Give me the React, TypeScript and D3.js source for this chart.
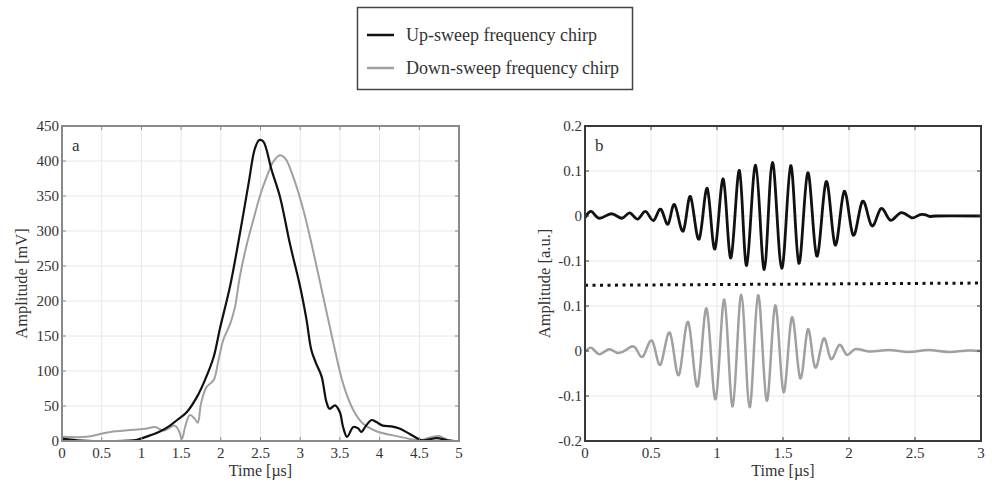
import React from "react";
import * as d3 from "d3";

// ---------- Panel a: envelope (time µs, amplitude mV) ----------
const upTimeA = [0, 0.19, 0.48, 0.9, 0.98, 1.11, 1.24, 1.36, 1.45, 1.57, 1.7, 1.8, 1.91, 1.99, 2.12, 2.24, 2.35, 2.43, 2.485, 2.535, 2.64, 2.745, 2.87, 3.0, 3.08, 3.14, 3.2, 3.27, 3.33, 3.37, 3.44, 3.5, 3.54, 3.59, 3.67, 3.73, 3.77, 3.83, 3.9, 3.96, 4.04, 4.15, 4.25, 4.38, 4.53, 4.61, 4.72, 4.85, 4.93];
const upAmpA = [3.3, 1, 0, 1, 3, 8, 14, 22, 30, 41, 63, 87, 120, 161, 223, 296, 368, 418, 430, 428, 387, 349, 282, 220, 173, 130, 111, 92, 56, 46, 51, 41, 20, 6, 20, 18, 13, 22, 30, 27, 22, 21, 18, 10, 1, 2, 4, 1, 0];
const downTimeA = [0, 0.31, 0.48, 0.61, 0.9, 1.07, 1.17, 1.28, 1.42, 1.47, 1.51, 1.55, 1.61, 1.67, 1.71, 1.75, 1.82, 1.91, 1.97, 2.03, 2.12, 2.18, 2.24, 2.33, 2.41, 2.49, 2.58, 2.66, 2.74, 2.81, 2.91, 3.04, 3.16, 3.29, 3.42, 3.54, 3.67, 3.79, 3.96, 4.17, 4.38, 4.5, 4.67, 4.75, 4.87, 5];
const downAmpA = [6, 6, 10, 13, 16, 18, 20, 15, 22, 15, 3, 20, 37, 32, 26, 53, 77, 87, 115, 144, 168, 192, 235, 282, 316, 349, 378, 399, 408, 404, 378, 330, 273, 206, 139, 82, 44, 25, 14, 8, 3, 1, 6, 7, 1, 0];
const xTicksA = [0, 0.5, 1, 1.5, 2, 2.5, 3, 3.5, 4, 4.5, 5];
const yTicksA = [0, 50, 100, 150, 200, 250, 300, 350, 400, 450];

// ---------- Panel b: waveforms (time µs, amplitude a.u.) ----------
const upTimeB = [0, 0.05, 0.11, 0.2, 0.28, 0.34, 0.4, 0.46, 0.52, 0.575, 0.63, 0.68, 0.745, 0.8, 0.865, 0.927, 0.985, 1.048, 1.106, 1.17, 1.225, 1.293, 1.358, 1.42, 1.49, 1.558, 1.62, 1.687, 1.755, 1.826, 1.894, 1.962, 2.03, 2.1, 2.17, 2.24, 2.31, 2.39, 2.475, 2.54, 2.61, 2.66, 3.0];
const upAmpB = [-0.004, 0.01, -0.005, 0.005, -0.005, 0.007, -0.007, 0.01, -0.01, 0.015, -0.018, 0.025, -0.033, 0.043, -0.051, 0.061, -0.073, 0.082, -0.093, 0.101, -0.11, 0.113, -0.119, 0.119, -0.116, 0.112, -0.105, 0.096, -0.089, 0.076, -0.064, 0.054, -0.042, 0.032, -0.021, 0.016, -0.009, 0.007, -0.004, 0.003, -0.001, 0, 0];
const downTimeB = [0, 0.05, 0.11, 0.18, 0.24, 0.31, 0.38, 0.44, 0.51, 0.573, 0.644, 0.712, 0.783, 0.854, 0.922, 0.99, 1.056, 1.119, 1.184, 1.247, 1.311, 1.376, 1.44, 1.503, 1.566, 1.629, 1.687, 1.742, 1.806, 1.861, 1.924, 1.98, 2.045, 2.15, 2.3, 2.45, 2.6, 2.75, 2.9, 3.0];
const downAmpB = [-0.002, 0.007, -0.007, 0.004, -0.004, 0.002, 0.008, -0.012, 0.022, -0.03, 0.04, -0.053, 0.064, -0.078, 0.094, -0.107, 0.114, -0.123, 0.125, -0.125, 0.124, -0.11, 0.101, -0.091, 0.074, -0.06, 0.048, -0.036, 0.027, -0.017, 0.013, -0.008, 0.004, -0.001, 0.002, -0.002, 0.002, -0.002, 0.001, 0];
const upOffsetB = 0.15;
const downOffsetB = -0.15;
const separatorTime = [0, 3];
const separatorAmp = [-0.004, 0.001];
const xTicksB = [0, 0.5, 1, 1.5, 2, 2.5, 3];
const yTickPosB = [-0.35, -0.25, -0.15, -0.05, 0.05, 0.15, 0.25, 0.35];
const yTickLabelsB = ["-0.2", "-0.1", "0", "0.1", "-0.1", "0", "0.1", "0.2"];

const legendLabels = ["Up-sweep frequency chirp", "Down-sweep frequency chirp"];

const SERIF = "'Liberation Serif', 'Times New Roman', serif";
const BLACK = "#111";
const GRAY = "#a0a0a0";
const TXT = "#333";

type Pt = [number, number];
const zip = (xs: number[], ys: number[], off = 0): Pt[] => xs.map((x, i) => [x, ys[i] + off]);

function Panel(props: {
  left: number; right: number; top: number; bottom: number;
  xDomain: [number, number]; yDomain: [number, number];
  xTicks: number[]; yTicks: number[]; yLabels: string[];
  frameColor: string; letter: string; yTitle: string;
  series: { pts: Pt[]; color: string; width: number; curve: any; dash?: string; cap?: string }[];
}) {
  const { left, right, top, bottom } = props;
  const x = d3.scaleLinear().domain(props.xDomain).range([left, right]);
  const y = d3.scaleLinear().domain(props.yDomain).range([bottom, top]);
  const tl = 4;
  return (
    <g>
      {props.xTicks.map((t) => (
        <line key={"gx" + t} x1={x(t)} x2={x(t)} y1={top} y2={bottom} stroke="#e8e8e8" strokeWidth={1} />
      ))}
      {props.yTicks.map((t) => (
        <line key={"gy" + t} x1={left} x2={right} y1={y(t)} y2={y(t)} stroke="#e8e8e8" strokeWidth={1} />
      ))}
      <clipPath id={"clip" + props.letter}>
        <rect x={left} y={top} width={right - left} height={bottom - top} />
      </clipPath>
      <g clipPath={`url(#clip${props.letter})`}>
        {props.series.map((s, i) => {
          const line = d3.line<Pt>().x((d) => x(d[0])).y((d) => y(d[1])).curve(s.curve);
          return (
            <path key={i} d={line(s.pts) || ""} fill="none" stroke={s.color} strokeWidth={s.width}
              strokeDasharray={s.dash} strokeLinecap={(s.cap as any) || "round"} strokeLinejoin="round" />
          );
        })}
      </g>
      {props.xTicks.map((t) => (
        <g key={"tx" + t}>
          <line x1={x(t)} x2={x(t)} y1={bottom} y2={bottom - tl} stroke={props.frameColor} strokeWidth={1} />
          <line x1={x(t)} x2={x(t)} y1={top} y2={top + tl} stroke={props.frameColor} strokeWidth={1} />
          <text x={x(t)} y={bottom + 17} textAnchor="middle" fontFamily={SERIF} fontSize={15} fill={TXT}>{t}</text>
        </g>
      ))}
      {props.yTicks.map((t, i) => (
        <g key={"ty" + t}>
          <line x1={left} x2={left + tl} y1={y(t)} y2={y(t)} stroke={props.frameColor} strokeWidth={1} />
          <line x1={right} x2={right - tl} y1={y(t)} y2={y(t)} stroke={props.frameColor} strokeWidth={1} />
          <text x={left - 3} y={y(t) + 5} textAnchor="end" fontFamily={SERIF} fontSize={15} fill={TXT}>{props.yLabels[i]}</text>
        </g>
      ))}
      <rect x={left} y={top} width={right - left} height={bottom - top} fill="none" stroke={props.frameColor} strokeWidth={2} />
      <text x={left + 10} y={top + 25} fontFamily={SERIF} fontSize={17} fill={TXT}>{props.letter}</text>
      <text x={(left + right) / 2} y={bottom + 35} textAnchor="middle" fontFamily={SERIF} fontSize={16} fill={TXT}>Time [µs]</text>
      <text transform={`translate(${left - 35},${(top + bottom) / 2}) rotate(-90)`} textAnchor="middle" fontFamily={SERIF} fontSize={16.5} fill={TXT}>{props.yTitle}</text>
    </g>
  );
}

export default function App() {
  return (
    <svg width={992} height={483} style={{ position: "absolute", left: 0, top: 0, background: "#fff" }}>
      <rect x={0} y={0} width={992} height={483} fill="#fff" />
      {/* Legend */}
      <rect x={357.5} y={7.5} width={275} height={82} fill="#fff" stroke="#444" strokeWidth={1.5} />
      <line x1={367} x2={394} y1={35} y2={35} stroke={BLACK} strokeWidth={2.5} />
      <line x1={367} x2={394} y1={68} y2={68} stroke={GRAY} strokeWidth={2.5} />
      <text x={406} y={41} fontFamily={SERIF} fontSize={18} fill={TXT}>{legendLabels[0]}</text>
      <text x={406} y={74} fontFamily={SERIF} fontSize={18} fill={TXT}>{legendLabels[1]}</text>

      <Panel left={62} right={459} top={126} bottom={441}
        xDomain={[0, 5]} yDomain={[0, 450]}
        xTicks={xTicksA} yTicks={yTicksA} yLabels={yTicksA.map(String)}
        frameColor="#8a8a8a" letter="a" yTitle="Amplitude [mV]"
        series={[
          { pts: zip(downTimeA, downAmpA), color: GRAY, width: 2, curve: d3.curveCatmullRom },
          { pts: zip(upTimeA, upAmpA), color: BLACK, width: 2.2, curve: d3.curveCatmullRom },
        ]} />

      <Panel left={585} right={981} top={126} bottom={441}
        xDomain={[0, 3]} yDomain={[-0.35, 0.35]}
        xTicks={xTicksB} yTicks={yTickPosB} yLabels={yTickLabelsB}
        frameColor="#3a3a3a" letter="b" yTitle="Amplitude [a.u.]"
        series={[
          { pts: zip(downTimeB, downAmpB, downOffsetB), color: GRAY, width: 2.5, curve: d3.curveNatural },
          { pts: zip(upTimeB, upAmpB, upOffsetB), color: BLACK, width: 2.8, curve: d3.curveNatural },
          { pts: zip(separatorTime, separatorAmp), color: BLACK, width: 3, curve: d3.curveLinear, dash: "3 4.5", cap: "butt" },
        ]} />
    </svg>
  );
}
